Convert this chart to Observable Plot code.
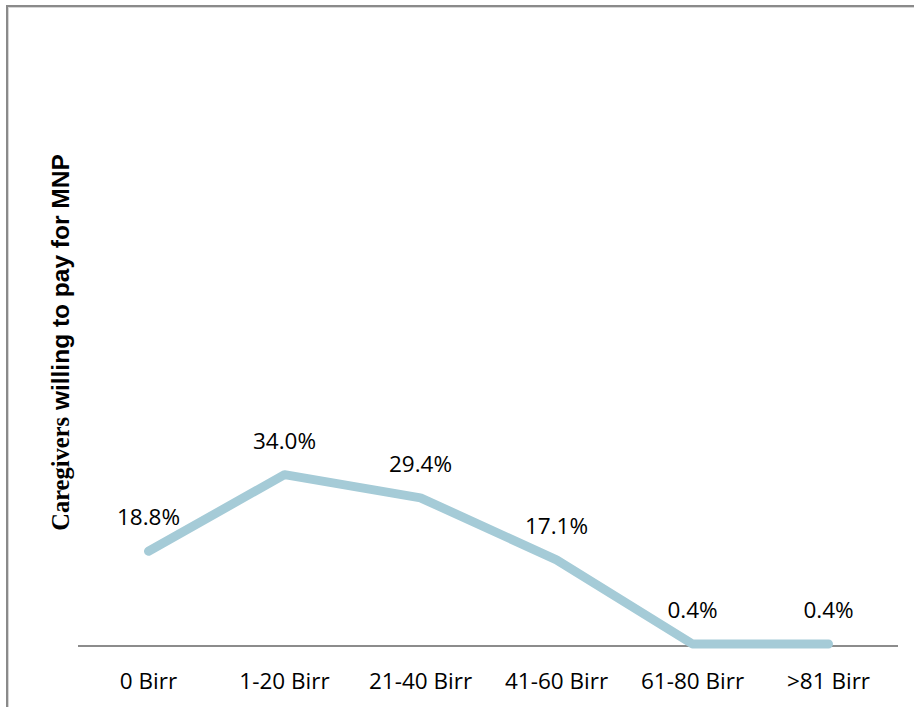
<!DOCTYPE html>
<html>
<head>
<meta charset="utf-8">
<script src="https://cdn.jsdelivr.net/npm/d3@7"></script>
<script src="https://cdn.jsdelivr.net/npm/@observablehq/plot@0.6"></script>
<style>
  html, body { margin: 0; padding: 0; background: #fff; }
  #wrap { position: relative; width: 914px; height: 707px; overflow: hidden; }
  #frame { position: absolute; left: 6px; top: 5px; width: 920px; height: 720px;
           border-left: 2px solid #8a8a8a; border-top: 2px solid #8a8a8a;
           box-shadow: inset 1px 1px 0 #d6d6d6; }
  #chart { position: absolute; left: 0; top: 0; }
</style>
</head>
<body>
<div id="wrap"><div id="frame"></div><div id="chart"></div></div>
<script>
const categories = ["0 Birr", "1-20 Birr", "21-40 Birr", "41-60 Birr", "61-80 Birr", ">81 Birr"];
const values = [18.8, 34.0, 29.4, 17.1, 0.4, 0.4];
const yTitleSerif = "Caregivers";
const yTitleSans = " willing to pay for MNP";

const data = categories.map((c, i) => ({cat: c, v: values[i]}));
const font = "'Open Sans', 'Liberation Sans', sans-serif";

const plot = Plot.plot({
  width: 914,
  height: 707,
  marginLeft: 78,
  marginRight: 16,
  marginTop: 141.5,
  marginBottom: 61.5,
  style: {background: "transparent", fontFamily: font},
  x: {type: "point", domain: categories, padding: 0.5, align: 0.5, axis: null},
  y: {domain: [0, 100], axis: null},
  marks: [
    Plot.ruleY([0], {stroke: "#8c8c8c", strokeWidth: 2}),
    Plot.line(data, {x: "cat", y: "v", stroke: "#a5cbd7", strokeWidth: 9,
                     strokeLinecap: "round", strokeLinejoin: "round"}),
    Plot.text(data, {x: "cat", y: "v", text: d => d.v.toFixed(1) + "%", dy: -33,
                     fontSize: 22.5, fill: "#000", fontFamily: font}),
    Plot.text(categories, {x: d => d, frameAnchor: "bottom", lineAnchor: "top", dy: 27,
                           fontSize: 22.5, fill: "#000", fontFamily: font})
  ]
});

document.getElementById("chart").appendChild(plot);

const svg = d3.select(plot);
const t = svg.append("text")
  .attr("transform", "translate(59.5,342.5) rotate(-90)")
  .attr("text-anchor", "middle")
  .attr("dominant-baseline", "central")
  .attr("font-weight", "bold")
  .attr("font-size", 24.5)
  .attr("fill", "#000");
t.append("tspan").attr("font-family", "'Liberation Serif', 'Times New Roman', serif").text(yTitleSerif);
t.append("tspan").attr("font-family", "'Liberation Sans', Arial, sans-serif").text(yTitleSans);
</script>
</body>
</html>
